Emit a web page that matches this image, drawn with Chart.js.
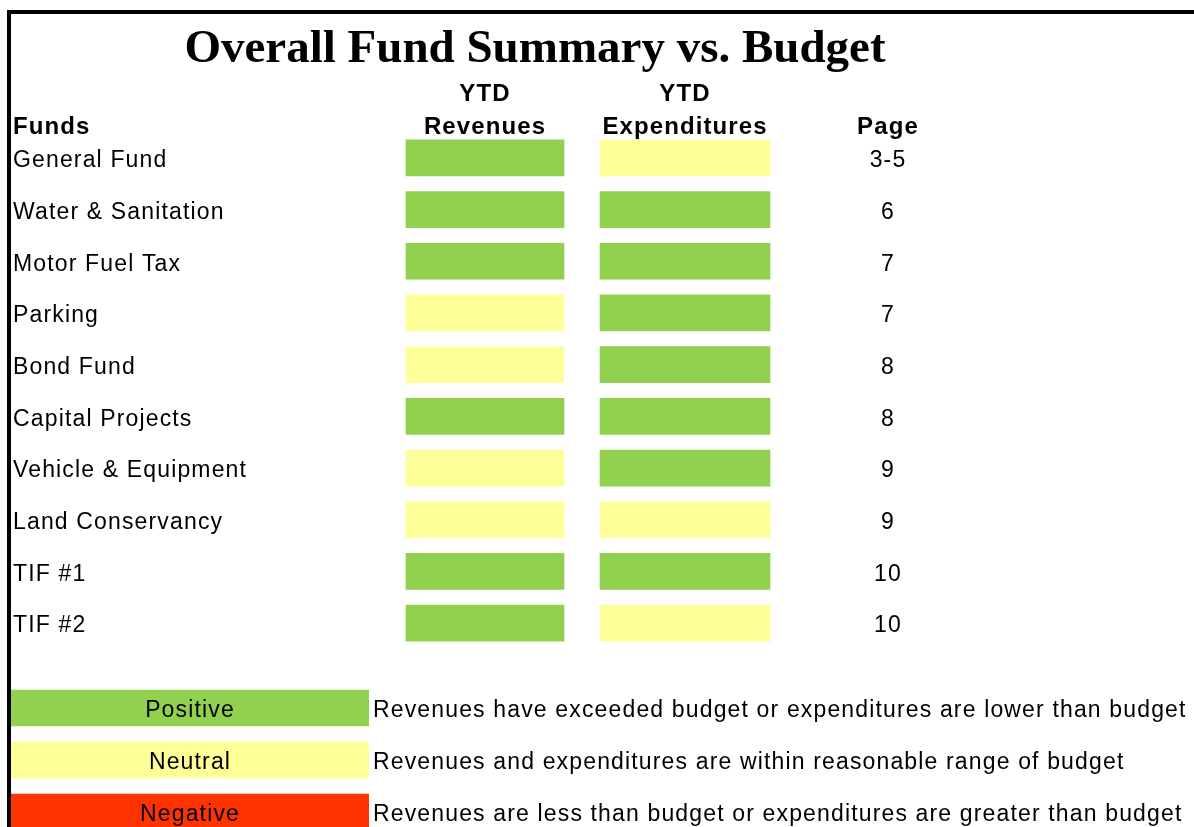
<!DOCTYPE html>
<html lang="en">
<head>
<meta charset="UTF-8">
<title>Overall Fund Summary vs. Budget</title>
<script src="https://cdn.jsdelivr.net/npm/chart.js"></script>
<style>
  html, body { margin: 0; padding: 0; background: #fff; overflow: hidden; }
  .page { position: relative; width: 1194px; height: 827px; overflow: hidden; background: #fff; }
  .frame { position: absolute; left: 7px; top: 10px; width: 1300px; height: 900px;
           border-top: 4px solid #000; border-left: 4px solid #000; }
  #fund-chart { position: absolute; left: 0; top: 0; }
  #legend-chart { position: absolute; left: 0; top: 680px; }
</style>
</head>
<body>
<div class="page">
  <div class="frame"></div>
  <canvas id="fund-chart" width="1194" height="680"></canvas>
  <canvas id="legend-chart" width="1194" height="160"></canvas>
</div>

<script>
// data
const title = 'Overall Fund Summary vs. Budget';
const funds = ['General Fund', 'Water & Sanitation', 'Motor Fuel Tax', 'Parking', 'Bond Fund',
               'Capital Projects', 'Vehicle & Equipment', 'Land Conservancy', 'TIF #1', 'TIF #2'];
const revenueStatus = ['Positive', 'Positive', 'Positive', 'Neutral', 'Neutral',
                       'Positive', 'Neutral', 'Neutral', 'Positive', 'Positive'];
const expenditureStatus = ['Neutral', 'Positive', 'Positive', 'Positive', 'Positive',
                           'Positive', 'Positive', 'Neutral', 'Positive', 'Neutral'];
const pages = ['3-5', '6', '7', '7', '8', '8', '9', '9', '10', '10'];
const legendLabels = ['Positive', 'Neutral', 'Negative'];
const legendText = [
    'Revenues have exceeded budget or expenditures are lower than budget',
    'Revenues and expenditures are within reasonable range of budget',
    'Revenues are less than budget or expenditures are greater than budget'
];

const statusColors = { Positive: '#92D050', Neutral: '#FFFF99', Negative: '#FF3300' };

Chart.defaults.font.family = '"Liberation Sans", Arial, sans-serif';
Chart.defaults.color = '#000';

// columns live at x = 1 (revenues) and x = 2 (expenditures)
const REV_COL = 1, EXP_COL = 2;
const REV_HALF = 0.395, EXP_HALF = 0.425;
const PAGE_X = 888;
const BODY_SPACING = '1.15px';
const TEXT_DROP = 3;

const summaryText = {
    id: 'summaryText',
    beforeDraw(chart) {
        chart.ctx.letterSpacing = BODY_SPACING;
    },
    afterDraw(chart) {
        const ctx = chart.ctx;
        const x = chart.scales.x;
        const y = chart.scales.y;
        ctx.save();
        ctx.fillStyle = '#000';
        ctx.textBaseline = 'alphabetic';

        // title
        ctx.letterSpacing = '0px';
        ctx.font = 'bold 47px "Liberation Serif", "Times New Roman", serif';
        ctx.textAlign = 'center';
        ctx.fillText(title, 535, 62);

        // column headers
        ctx.letterSpacing = '1.1px';
        ctx.font = 'bold 24px "Liberation Sans", Arial, sans-serif';
        ctx.textAlign = 'left';
        ctx.fillText('Funds', 13, 134);
        ctx.textAlign = 'center';
        ctx.fillText('YTD', x.getPixelForValue(REV_COL), 101);
        ctx.fillText('Revenues', x.getPixelForValue(REV_COL), 134);
        ctx.fillText('YTD', x.getPixelForValue(EXP_COL), 101);
        ctx.fillText('Expenditures', x.getPixelForValue(EXP_COL), 134);
        ctx.fillText('Page', PAGE_X, 134);

        // page numbers
        ctx.letterSpacing = BODY_SPACING;
        ctx.font = '23px "Liberation Sans", Arial, sans-serif';
        ctx.textBaseline = 'middle';
        pages.forEach((p, i) => {
            ctx.fillText(p, PAGE_X, y.getPixelForValue(i) + TEXT_DROP);
        });
        ctx.restore();
    }
};

new Chart(document.getElementById('fund-chart'), {
    type: 'bar',
    data: {
        labels: funds,
        datasets: [{
            label: 'YTD Revenues',
            data: funds.map(() => [REV_COL - REV_HALF, REV_COL + REV_HALF]),
            backgroundColor: revenueStatus.map(s => statusColors[s]),
            grouped: false,
            barThickness: 36
        }, {
            label: 'YTD Expenditures',
            data: funds.map(() => [EXP_COL - EXP_HALF, EXP_COL + EXP_HALF]),
            backgroundColor: expenditureStatus.map(s => statusColors[s]),
            grouped: false,
            barThickness: 36
        }]
    },
    options: {
        indexAxis: 'y',
        responsive: false,
        animation: false,
        layout: { padding: { left: 13, right: 364, top: 132, bottom: 31 } },
        plugins: { legend: { display: false }, tooltip: { enabled: false } },
        scales: {
            x: { type: 'linear', display: false, min: 0.475, max: 2.725 },
            y: {
                type: 'category',
                grid: { display: false, drawTicks: false },
                border: { display: false },
                ticks: { crossAlign: 'far', padding: 0, autoSkip: false, labelOffset: TEXT_DROP,
                         font: { size: 23 }, color: '#000' },
                afterFit(scale) {
                    scale.width = 367;
                    scale.paddingTop = 0;
                    scale.paddingBottom = 0;
                }
            }
        }
    },
    plugins: [summaryText]
});

const legendBarText = {
    id: 'legendBarText',
    beforeDraw(chart) {
        chart.ctx.letterSpacing = BODY_SPACING;
    },
    afterDatasetsDraw(chart) {
        const ctx = chart.ctx;
        const area = chart.chartArea;
        const y = chart.scales.y;
        ctx.save();
        ctx.letterSpacing = BODY_SPACING;
        ctx.fillStyle = '#000';
        ctx.font = '23px "Liberation Sans", Arial, sans-serif';
        ctx.textAlign = 'center';
        ctx.textBaseline = 'middle';
        legendLabels.forEach((l, i) => {
            ctx.fillText(l, (area.left + area.right) / 2, y.getPixelForValue(i) + TEXT_DROP);
        });
        ctx.restore();
    }
};

new Chart(document.getElementById('legend-chart'), {
    type: 'bar',
    data: {
        labels: legendLabels,
        datasets: [{
            data: legendLabels.map(() => 1),
            backgroundColor: legendLabels.map(s => statusColors[s]),
            barThickness: 36
        }]
    },
    options: {
        indexAxis: 'y',
        responsive: false,
        animation: false,
        layout: { padding: { left: 11, right: 0, top: 2, bottom: 2 } },
        plugins: { legend: { display: false }, tooltip: { enabled: false } },
        scales: {
            x: { type: 'linear', display: false, min: 0, max: 1 },
            y: { display: false },
            y2: {
                type: 'category',
                labels: legendText,
                position: 'right',
                offset: true,
                grid: { display: false, drawTicks: false },
                border: { display: false },
                ticks: { crossAlign: 'near', padding: 4, autoSkip: false, labelOffset: TEXT_DROP,
                         font: { size: 23 }, color: '#000' },
                afterFit(scale) {
                    scale.width = 825;
                    scale.paddingTop = 0;
                    scale.paddingBottom = 0;
                }
            }
        }
    },
    plugins: [legendBarText]
});
</script>
</body>
</html>
